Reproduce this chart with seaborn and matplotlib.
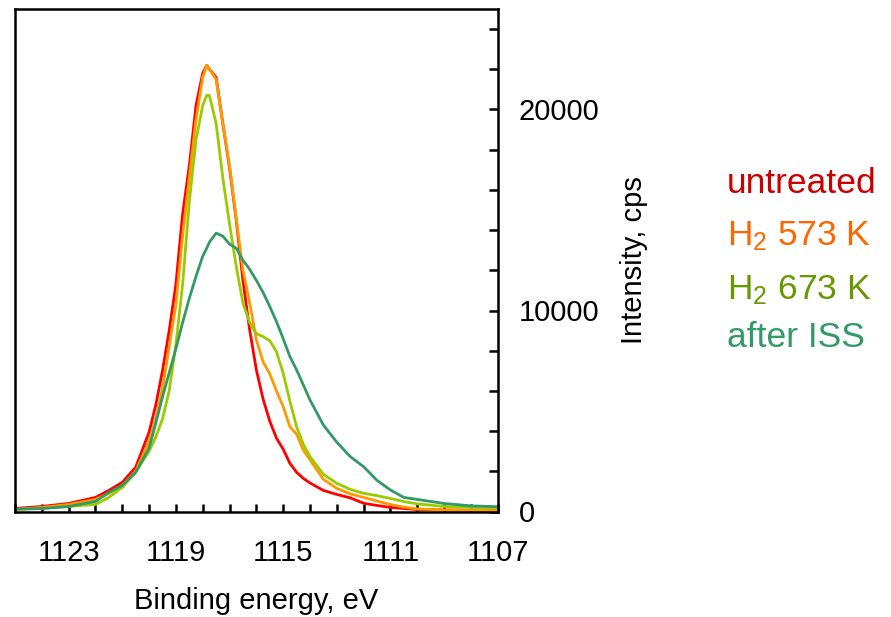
import matplotlib
matplotlib.use("Agg")
import matplotlib.pyplot as plt
import seaborn as sns
import pandas as pd

# ---------------- data ----------------
energy = [1125, 1124, 1123, 1122, 1121.5, 1121, 1120.5, 1120, 1119.75, 1119.5,
          1119.25, 1119, 1118.75, 1118.5, 1118.25, 1118, 1117.85, 1117.75, 1117.5,
          1117.25, 1117, 1116.75, 1116.5, 1116.25, 1116, 1115.75, 1115.5, 1115.25,
          1115, 1114.75, 1114.5, 1114.25, 1114, 1113.5, 1113, 1112.5, 1112, 1111.5,
          1111, 1110.5, 1110, 1109, 1108, 1107]

untreated = [150, 250, 400, 700, 1050, 1450, 2200, 3950, 5300, 7000,
             9000, 11300, 14800, 17200, 20200, 21800, 22200, 22000, 21600,
             19300, 17100, 14500, 11500, 9040, 7050, 5600, 4500, 3650,
             3100, 2400, 1950, 1650, 1420, 1050, 850, 680, 410, 300,
             200, 150, 100, 80, 60, 50]

h2_573 = [100, 200, 350, 600, 900, 1300, 2000, 3500, 4600, 6100,
          8200, 10300, 13700, 16600, 19500, 21600, 22200, 22000, 21500,
          19300, 17200, 14600, 12000, 10400, 8540, 7450, 6850, 6000,
          5220, 4220, 3850, 3060, 2565, 1600, 1150, 880, 700, 520,
          350, 220, 130, 80, 60, 50]

h2_673 = [100, 150, 250, 350, 700, 1200, 1950, 3000, 3700, 4600,
          6000, 8300, 11300, 15400, 18500, 20200, 20700, 20700, 19300,
          16600, 14300, 12200, 10370, 9400, 8850, 8700, 8500, 7950,
          6880, 5500, 4220, 3350, 2730, 1850, 1400, 1100, 905, 790,
          650, 490, 380, 250, 200, 180]

after_iss = [120, 150, 250, 500, 950, 1300, 1950, 3150, 4400, 5700,
             6900, 8100, 9400, 10600, 11700, 12700, 13100, 13400, 13850,
             13700, 13300, 13100, 12500, 12050, 11500, 10900, 10200, 9450,
             8600, 7710, 7050, 6300, 5550, 4300, 3450, 2730, 2230, 1550,
             1070, 700, 600, 400, 280, 240]

series_names = ["untreated", "H2 573 K", "H2 673 K", "after ISS"]
legend_labels = ["untreated", "H$_2$ 573 K", "H$_2$ 673 K", "after ISS"]
line_colors = ["#FF0000", "#FF9900", "#99CC00", "#339966"]
text_colors = ["#CC0000", "#FF6600", "#669900", "#339966"]

x_major = [1123, 1119, 1115, 1111, 1107]
x_major_labels = ["1123", "1119", "1115", "1111", "1107"]
x_minor = list(range(1107, 1126))
y_major = [0, 10000, 20000]
y_major_labels = ["0", "10000", "20000"]
y_minor = list(range(0, 25001, 2000))

# ---------------- build long-form table ----------------
frames = []
for name, vals in zip(series_names, [untreated, h2_573, h2_673, after_iss]):
    frames.append(pd.DataFrame({"energy": energy, "intensity": vals, "sample": name}))
df = pd.concat(frames, ignore_index=True)

# ---------------- styling ----------------
sns.set_style("white")
plt.rcParams["font.family"] = ["Liberation Sans", "DejaVu Sans"]
plt.rcParams["mathtext.default"] = "regular"
plt.rcParams["text.color"] = "black"
plt.rcParams["axes.labelcolor"] = "black"
plt.rcParams["xtick.color"] = "black"
plt.rcParams["ytick.color"] = "black"

fig = plt.figure(figsize=(8.91, 6.17), dpi=100)
ax = fig.add_axes([15 / 891, 1 - 511.5 / 617, (497.7 - 15) / 891, (511.5 - 9) / 617])

sns.lineplot(data=df, x="energy", y="intensity", hue="sample",
             hue_order=series_names, palette=line_colors,
             linewidth=2.0, legend=False, ax=ax, sort=True, estimator=None)

ax.set_xlim(1125, 1107)
ax.set_ylim(0, 25000)

for s in ax.spines.values():
    s.set_visible(True)
    s.set_linewidth(1.8)
    s.set_color("black")

ax.set_xticks(x_major)
ax.set_xticklabels(x_major_labels)
ax.set_xticks(x_minor, minor=True)
ax.tick_params(axis="x", which="both", direction="in", bottom=True, top=False,
               length=6, width=1.8, colors="black", labelsize=21, pad=20)

ax.yaxis.tick_right()
ax.yaxis.set_label_position("right")
ax.set_yticks(y_major)
ax.set_yticklabels(y_major_labels)
ax.set_yticks(y_minor, minor=True)
ax.tick_params(axis="y", which="both", direction="in", right=True, left=False,
               length=6.5, width=1.8, colors="black", labelsize=21, pad=15)

ax.set_xlabel("Binding energy, eV", fontsize=21, labelpad=14)
ax.set_ylabel("Intensity, cps", fontsize=21, labelpad=15)

# colored text legend
baselines = [193.3, 245.5, 299.5, 347.0]
for lab, col, yb in zip(legend_labels, text_colors, baselines):
    fig.text(727 / 891, 1 - yb / 617, lab, color=col, fontsize=25.5,
             ha="left", va="baseline")

fig.savefig("out.png", dpi=100)
